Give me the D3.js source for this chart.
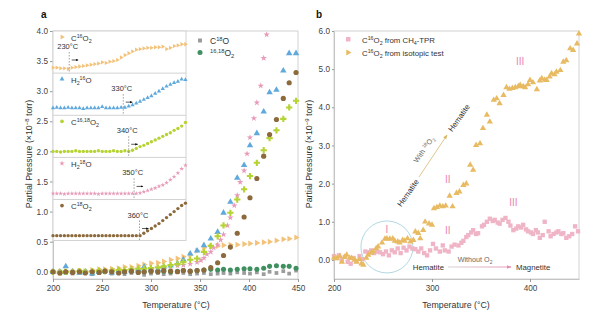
<!DOCTYPE html>
<html>
<head>
<meta charset="utf-8">
<script src="https://cdn.jsdelivr.net/npm/d3@7"></script>
<style>
body { margin: 0; background: #fff; }
svg { font-family: "Liberation Sans", Arial, sans-serif; }
</style>
</head>
<body>
<svg width="606" height="321"></svg>
<script>
// ============================== DATA : panel a, main plot ==============================
const tempA = [200, 207, 213, 220, 227, 233, 240, 247, 253, 260, 267, 273, 280, 287, 293, 300, 307, 313, 320, 327, 333, 340, 347, 354, 361, 368, 374, 381, 388, 395, 401, 408, 415, 421, 428, 435, 441, 448];
const c16o2A = [0.0, 0.0, 0.01, 0.0, 0.02, 0.01, 0.03, 0.04, 0.04, 0.05, 0.06, 0.08, 0.08, 0.1, 0.12, 0.14, 0.15, 0.17, 0.2, 0.22, 0.25, 0.28, 0.35, 0.4, 0.42, 0.43, 0.44, 0.45, 0.45, 0.46, 0.47, 0.48, 0.49, 0.5, 0.52, 0.54, 0.55, 0.57];
const h216oA = [0.0, 0.0, 0.09, 0.0, -0.02, 0.0, -0.03, 0.0, 0.01, -0.02, 0.02, 0.0, 0.02, 0.04, 0.08, 0.05, 0.04, 0.08, 0.1, 0.14, 0.2, 0.3, 0.35, 0.44, 0.55, 0.66, 0.98, 1.16, 1.56, 1.77, 2.1, 2.3, 2.66, 2.98, 3.02, 3.34, 3.63, 3.63];
const c1618o2A = [0.0, -0.01, 0.0, 0.0, 0.01, 0.0, 0.01, 0.02, 0.01, 0.02, 0.03, 0.03, 0.04, 0.05, 0.05, 0.06, 0.07, 0.09, 0.11, 0.13, 0.16, 0.2, 0.22, 0.33, 0.43, 0.59, 0.77, 0.98, 1.2, 1.37, 1.59, 1.81, 2.02, 2.22, 2.35, 2.54, 2.73, 2.84];
const c18o2A = [0.0, -0.02, 0.0, -0.01, 0.0, -0.02, 0.0, -0.01, 0.01, 0.0, -0.02, 0.0, 0.01, -0.01, 0.0, 0.01, 0.0, 0.02, 0.01, 0.0, 0.02, 0.01, 0.02, 0.03, 0.07, 0.15, 0.27, 0.41, 0.64, 0.91, 1.23, 1.55, 1.92, 2.28, 2.53, 2.88, 3.14, 3.31];
const c18oA = [0.0, -0.02, 0.0, -0.03, -0.01, 0.0, -0.04, -0.02, 0.0, -0.03, -0.01, -0.04, -0.02, 0.0, -0.05, -0.03, -0.02, -0.04, -0.03, 0.0, -0.02, -0.04, -0.03, -0.02, -0.04, -0.03, -0.02, -0.03, -0.01, -0.02, -0.03, -0.01, -0.04, 0.0, -0.02, 0.01, -0.03, 0.02];
const o1618A = [0.0, 0.0, -0.01, 0.0, 0.01, 0.0, 0.0, 0.01, 0.0, 0.01, 0.0, 0.0, 0.01, 0.0, 0.0, 0.01, 0.0, 0.01, 0.0, 0.01, 0.02, 0.01, 0.02, 0.03, 0.04, 0.03, 0.04, 0.03, 0.04, 0.05, 0.05, 0.04, 0.06, 0.09, 0.1, 0.09, 0.09, 0.06];
const tempH218o = [200, 207, 213, 220, 227, 233, 240, 247, 253, 260, 267, 273, 280, 287, 293, 300, 307, 313, 320, 327, 333, 340, 347, 351, 354, 357, 361, 364, 368, 371, 374, 378, 381, 385, 388, 391, 395, 398, 401, 405, 408, 412, 415, 418];
const h218oA = [0.0, -0.02, 0.0, 0.01, -0.01, 0.0, 0.01, 0.02, 0.01, 0.02, 0.03, 0.02, 0.04, 0.05, 0.05, 0.06, 0.07, 0.08, 0.09, 0.1, 0.11, 0.13, 0.16, 0.19, 0.23, 0.29, 0.33, 0.4, 0.45, 0.53, 0.62, 0.77, 0.9, 1.1, 1.27, 1.49, 1.68, 1.96, 2.23, 2.55, 2.81, 3.09, 3.55, 3.94];

// ============================== DATA : panel a, stacked inset ==============================
const tempInset = [200, 207, 214, 221, 228, 235, 242, 249, 256, 263, 270, 277, 284, 291, 298, 305, 312, 319, 326, 333, 340, 347, 354, 361, 368, 375, 382, 389, 396, 403, 410, 417, 424, 431, 438, 445];
const insetC16o2 = [3.39, 3.39, 3.38, 3.38, 3.37, 3.39, 3.40, 3.41, 3.42, 3.43, 3.44, 3.45, 3.46, 3.48, 3.47, 3.49, 3.50, 3.52, 3.56, 3.60, 3.63, 3.66, 3.69, 3.70, 3.71, 3.72, 3.72, 3.73, 3.73, 3.74, 3.70, 3.72, 3.75, 3.76, 3.78, 3.78];
const insetH216o = [2.72, 2.73, 2.72, 2.72, 2.73, 2.72, 2.72, 2.72, 2.71, 2.72, 2.72, 2.72, 2.72, 2.74, 2.72, 2.72, 2.72, 2.72, 2.73, 2.73, 2.75, 2.77, 2.80, 2.83, 2.86, 2.89, 2.92, 2.96, 3.00, 3.04, 3.08, 3.11, 3.14, 3.16, 3.20, 3.19];
const insetC1618o2 = [2.0, 2.0, 1.99, 2.0, 2.0, 2.0, 2.01, 2.0, 2.0, 2.0, 2.0, 2.0, 2.01, 2.0, 2.0, 2.0, 2.01, 2.0, 2.0, 2.01, 2.0, 2.02, 2.05, 2.08, 2.10, 2.13, 2.16, 2.19, 2.22, 2.25, 2.28, 2.31, 2.35, 2.38, 2.42, 2.48];
const insetH218o = [1.3, 1.3, 1.3, 1.29, 1.3, 1.3, 1.3, 1.3, 1.3, 1.3, 1.3, 1.3, 1.29, 1.3, 1.3, 1.3, 1.3, 1.3, 1.3, 1.3, 1.3, 1.3, 1.30, 1.31, 1.33, 1.35, 1.37, 1.39, 1.42, 1.44, 1.48, 1.53, 1.58, 1.64, 1.71, 1.77];
const insetC18o2 = [0.6, 0.6, 0.6, 0.6, 0.6, 0.6, 0.6, 0.6, 0.6, 0.6, 0.6, 0.6, 0.6, 0.6, 0.6, 0.6, 0.6, 0.6, 0.6, 0.6, 0.6, 0.6, 0.6, 0.6, 0.64, 0.68, 0.72, 0.76, 0.80, 0.85, 0.90, 0.95, 1.00, 1.05, 1.10, 1.14];
const onsetTemps = [230, 330, 340, 350, 360];
const insetRowTops = [4.0, 3.3, 2.6, 1.9, 1.2];
const insetBottom = 0.52;

// ============================== DATA : panel b ==============================
const tempTPR = [200, 202, 205, 208, 211, 214, 217, 220, 223, 226, 229, 232, 235, 238, 241, 244, 247, 250, 253, 256, 259, 262, 265, 268, 271, 274, 277, 280, 283, 286, 289, 292, 295, 298, 301, 304, 308, 311, 313, 317, 320, 323, 327, 330, 332, 335, 337, 340, 342, 345, 347, 351, 353, 356, 359, 362, 364, 367, 369, 372, 375, 378, 380, 383, 386, 388, 391, 393, 396, 398, 401, 403, 406, 408, 410, 413, 415, 419, 421, 424, 427, 429, 432, 434, 437, 440, 443, 446, 449];
const valTPR = [0.1, 0.05, 0.12, 0.0, 0.08, -0.05, -0.1, 0.05, -0.03, 0.1, 0.02, 0.22, 0.2, 0.25, 0.18, 0.22, 0.2, 0.15, 0.22, 0.12, 0.25, 0.2, 0.3, 0.18, 0.32, 0.25, 0.35, 0.3, 0.28, 0.22, 0.3, 0.18, 0.12, 0.25, 0.42, 0.3, 0.22, 0.38, 0.25, 0.22, 0.35, 0.4, 0.38, 0.45, 0.5, 0.6, 0.65, 0.72, 0.78, 0.68, 0.7, 0.88, 0.92, 1.0, 1.08, 1.02, 1.05, 0.98, 0.95, 1.05, 1.1, 1.0, 0.9, 0.78, 0.82, 0.88, 0.85, 0.92, 0.8, 0.75, 0.72, 0.68, 0.78, 0.72, 0.58, 0.65, 1.0, 0.75, 0.62, 0.68, 0.72, 0.75, 0.68, 0.7, 0.58, 0.62, 0.68, 0.88, 0.75];
const tempIso = [200, 203, 206, 208, 211, 213, 216, 218, 221, 223, 226, 228, 230, 233, 235, 238, 240, 243, 245, 249, 252, 254, 257, 260, 262, 265, 267, 270, 272, 275, 278, 281, 283, 286, 288, 291, 293, 297, 300, 302, 305, 308, 311, 314, 318, 321, 325, 328, 332, 335, 339, 342, 345, 349, 352, 356, 359, 363, 366, 369, 373, 376, 379, 382, 385, 388, 390, 393, 395, 398, 400, 403, 407, 410, 412, 415, 417, 420, 422, 425, 427, 431, 434, 437, 441, 444, 448, 450];
const valIso = [0.05, 0.04, 0.1, -0.05, 0.08, 0.13, 0.05, 0.05, 0.0, -0.05, 0.02, -0.1, -0.13, 0.05, 0.13, 0.18, 0.22, 0.3, 0.35, 0.45, 0.55, 0.56, 0.55, 0.56, 0.5, 0.48, 0.45, 0.52, 0.5, 0.56, 0.48, 0.52, 0.74, 0.7, 0.56, 0.78, 1.0, 0.95, 0.92, 1.35, 1.38, 1.42, 1.4, 1.42, 1.68, 1.4, 1.75, 1.79, 1.96, 2.0, 2.49, 2.36, 3.01, 3.05, 3.45, 3.8, 3.62, 4.19, 4.23, 4.1, 4.32, 4.52, 4.48, 4.5, 4.52, 4.55, 4.58, 4.55, 4.52, 4.6, 4.71, 4.65, 4.47, 4.7, 4.76, 4.72, 4.71, 4.8, 4.89, 4.86, 4.93, 4.97, 5.19, 5.23, 5.54, 5.5, 5.67, 5.93];

const ticksA_y = [0, 0.5, 1, 1.5, 2, 2.5, 3, 3.5, 4];
const ticksA_x = [200, 250, 300, 350, 400, 450];
const ticksB_y = [0, 1, 2, 3, 4, 5, 6];
const ticksB_x = [200, 300, 400];

// colours
const cOrange = "#f2c27a", cBlue = "#5fa9dd", cLime = "#b6d334", cPink = "#e79ab9",
      cBrown = "#8c6a3c", cGray = "#9c9c9c", cGreen = "#3f8f60";
const cTPR = "#efb5c6", cIso = "#e8ba62", cRoman = "#ec86b2";

const svg = d3.select("svg");

// superscript / subscript text helper
function rich(g, x, y, parts, size, anchor) {
    const t = g.append("text").attr("x", x).attr("y", y)
        .attr("font-size", size).attr("text-anchor", anchor || "start");
    let shift = 0;
    parts.forEach(p => {
        const off = p[1] === "sup" ? -size * 0.38 : p[1] === "sub" ? size * 0.28 : 0;
        t.append("tspan").attr("dy", off - shift)
            .attr("font-size", p[1] ? size * 0.68 : size).text(p[0]);
        shift = off;
    });
    return t;
}

function dots(g, xs, ys, temps, vals, type, size, color, rot) {
    g.append("g").selectAll("path").data(d3.zip(temps, vals)).join("path")
        .attr("d", d3.symbol().type(type).size(size))
        .attr("transform", d => "translate(" + xs(d[0]) + "," + ys(d[1]) + ")" + (rot ? " rotate(" + rot + ")" : ""))
        .attr("fill", color);
}

function styleAxis(g) {
    g.select(".domain").attr("stroke", "#c4c4c4");
    g.selectAll(".tick line").attr("stroke", "#999");
    g.selectAll(".tick text").attr("fill", "#444").attr("font-size", 8.2);
}

// arrow markers
const defs = svg.append("defs");
function marker(id, color, w) {
    defs.append("marker").attr("id", id).attr("viewBox", "0 0 10 10")
        .attr("refX", 9).attr("refY", 5).attr("markerWidth", w).attr("markerHeight", w)
        .attr("orient", "auto")
        .append("path").attr("d", "M0,1 L10,5 L0,9 Z").attr("fill", color);
}
marker("arrK", "#111", 4);
marker("arrY", "#d9b45a", 5);
marker("arrP", "#e68cb0", 5);
const grad = defs.append("linearGradient").attr("id", "gradP");
grad.append("stop").attr("offset", "0%").attr("stop-color", "#cfcfcf");
grad.append("stop").attr("offset", "100%").attr("stop-color", "#e68cb0");

// ============================== PANEL A ==============================
const xa = d3.scaleLinear().domain([200, 450]).range([53, 298]);
const ya = d3.scaleLinear().domain([-0.12, 4.0]).range([279, 31]);
const xin = d3.scaleLinear().domain([200, 446]).range([53, 186]);

const ga = svg.append("g");
ga.append("rect").attr("x", 53).attr("y", 31).attr("width", 245).attr("height", 248)
    .attr("fill", "none").attr("stroke", "#d2d2d2");

ga.append("g").attr("transform", "translate(53,0)")
    .call(d3.axisLeft(ya).tickValues(ticksA_y).tickFormat(d3.format(".1f")).tickSize(3).tickSizeOuter(0).tickPadding(2))
    .call(styleAxis);
ga.append("g").attr("transform", "translate(0,279)")
    .call(d3.axisBottom(xa).tickValues(ticksA_x).tickFormat(d3.format("d")).tickSize(3).tickSizeOuter(0).tickPadding(3))
    .call(styleAxis);

dots(ga, xa, ya, tempA, c18oA, d3.symbolSquare, 14, cGray);
dots(ga, xa, ya, tempA, o1618A, d3.symbolCircle, 20, cGreen);
dots(ga, xa, ya, tempA, c16o2A, d3.symbolTriangle, 16, cOrange, 90);
dots(ga, xa, ya, tempH218o, h218oA, d3.symbolStar, 13, cPink);
dots(ga, xa, ya, tempA, h216oA, d3.symbolTriangle, 18, cBlue);
dots(ga, xa, ya, tempA, c1618o2A, d3.symbolCross, 22, cLime);
dots(ga, xa, ya, tempA, c18o2A, d3.symbolCircle, 21, cBrown);

// legend for the two flat species
ga.append("rect").attr("x", 198).attr("y", 38.5).attr("width", 4).attr("height", 4).attr("fill", cGray);
rich(ga, 210, 44, [["C"], ["18", "sup"], ["O"]], 8.5).attr("fill", "#333");
ga.append("circle").attr("cx", 200).attr("cy", 52.5).attr("r", 2.5).attr("fill", cGreen);
rich(ga, 210, 56, [["16,18", "sup"], ["O"], ["2", "sub"]], 8.5).attr("fill", "#333");

// stacked inset, offset traces on the same pressure axis
const gi = ga.append("g");
gi.append("rect").attr("x", 53).attr("y", ya(4.0)).attr("width", 133).attr("height", ya(insetBottom) - ya(4.0))
    .attr("fill", "#fff").attr("stroke", "#d2d2d2");
insetRowTops.slice(1).forEach(v => {
    gi.append("line").attr("x1", 53).attr("x2", 186).attr("y1", ya(v)).attr("y2", ya(v))
        .attr("stroke", "#d2d2d2");
});

const insetSeries = [
    { vals: insetC16o2, type: d3.symbolTriangle, size: 8, color: cOrange, rot: 90, label: [["C"], ["16", "sup"], ["O"], ["2", "sub"]] },
    { vals: insetH216o, type: d3.symbolTriangle, size: 8, color: cBlue, rot: 0, label: [["H"], ["2", "sub"], ["16", "sup"], ["O"]] },
    { vals: insetC1618o2, type: d3.symbolCircle, size: 9, color: cLime, rot: 0, label: [["C"], ["16,18", "sup"], ["O"], ["2", "sub"]] },
    { vals: insetH218o, type: d3.symbolStar, size: 7, color: cPink, rot: 0, label: [["H"], ["2", "sub"], ["18", "sup"], ["O"]] },
    { vals: insetC18o2, type: d3.symbolCircle, size: 9, color: cBrown, rot: 0, label: [["C"], ["18", "sup"], ["O"], ["2", "sub"]] }
];

insetSeries.forEach((s, i) => {
    const top = ya(insetRowTops[i]);
    const bottom = i < 4 ? ya(insetRowTops[i + 1]) : ya(insetBottom);
    dots(gi, xin, ya, tempInset, s.vals, s.type, s.size, s.color, s.rot);
    // row legend
    gi.append("path").attr("d", d3.symbol().type(s.type).size(s.size + 2))
        .attr("transform", "translate(62," + (top + 6) + ")" + (s.rot ? " rotate(" + s.rot + ")" : ""))
        .attr("fill", s.color);
    rich(gi, 71, top + 9.5, s.label, 7.8).attr("fill", "#333");
    // onset marker
    const lx = xin(onsetTemps[i]);
    gi.append("text").attr("x", lx - 1.5).attr("y", top + 18).attr("text-anchor", "middle")
        .attr("font-size", 7.5).attr("fill", "#333").text(onsetTemps[i] + "°C");
    gi.append("line").attr("x1", lx).attr("x2", lx).attr("y1", top + 21).attr("y2", bottom)
        .attr("stroke", "#777").attr("stroke-width", 0.7).attr("stroke-dasharray", "1.5,1.5");
    gi.append("line").attr("x1", lx + 2.5).attr("x2", lx + 9).attr("y1", top + 29).attr("y2", top + 29)
        .attr("stroke", "#111").attr("stroke-width", 0.7).attr("marker-end", "url(#arrK)");
});

rich(ga, 32, 154, [["Partial Pressure (×10"], ["−8", "sup"], [" torr)"]], 8.8, "middle")
    .attr("transform", "rotate(-90,32,154)").attr("fill", "#333");
ga.append("text").attr("x", 176).attr("y", 308).attr("text-anchor", "middle")
    .attr("font-size", 8.8).attr("fill", "#333").text("Temperature (°C)");
ga.append("text").attr("x", 41).attr("y", 18).attr("font-size", 10).attr("font-weight", "bold")
    .attr("fill", "#111").text("a");

// ============================== PANEL B ==============================
const xb = d3.scaleLinear().domain([200, 450]).range([334, 579]);
const yb = d3.scaleLinear().domain([-0.5, 6]).range([279, 31]);

const gb = svg.append("g");
gb.append("rect").attr("x", 334).attr("y", 31).attr("width", 245).attr("height", 248)
    .attr("fill", "none").attr("stroke", "#d2d2d2");
gb.append("g").attr("transform", "translate(334,0)")
    .call(d3.axisLeft(yb).tickValues(ticksB_y).tickFormat(d3.format(".1f")).tickSize(2).tickSizeOuter(0).tickPadding(2))
    .call(styleAxis);
gb.append("g").attr("transform", "translate(0,279)")
    .call(d3.axisBottom(xb).tickValues(ticksB_x).tickFormat(d3.format("d")).tickSize(3).tickSizeOuter(0).tickPadding(3))
    .call(styleAxis);

// reaction annotations (drawn under the points)
gb.append("circle").attr("cx", xb(254)).attr("cy", yb(0.34)).attr("r", 26)
    .attr("fill", "none").attr("stroke", "#a9d2de").attr("stroke-width", 0.9);

dots(gb, xb, yb, tempTPR, valTPR, d3.symbolSquare, 19, cTPR);
dots(gb, xb, yb, tempIso, valIso, d3.symbolTriangle, 17, cIso);

const roman = [["I", 254, 0.8], ["II", 316, 2.1], ["II", 316, 0.78], ["III", 390, 5.2], ["III", 383, 1.5]];
roman.forEach(r => {
    gb.append("text").attr("x", xb(r[1])).attr("y", yb(r[2])).attr("dy", "0.35em")
        .attr("text-anchor", "middle").attr("font-size", 10).attr("fill", cRoman).text(r[0]);
});

// Hematite + 18O2 -> Hematite
gb.append("text").attr("transform", "translate(408,193) rotate(-55)").attr("text-anchor", "middle")
    .attr("dy", "0.35em").attr("font-size", 7.8).attr("fill", "#333").text("Hematite");
gb.append("line").attr("x1", 419).attr("y1", 177).attr("x2", 447).attr("y2", 135)
    .attr("stroke", "#d9c27e").attr("stroke-width", 0.9).attr("marker-end", "url(#arrY)");
rich(gb, 0, 0, [["With "], ["18", "sup"], ["O"], ["2", "sub"]], 7.2, "middle")
    .attr("transform", "translate(426,151) rotate(-55)").attr("fill", "#666");
gb.append("text").attr("transform", "translate(459,118) rotate(-55)").attr("text-anchor", "middle")
    .attr("dy", "0.35em").attr("font-size", 7.8).attr("fill", "#333").text("Hematite");

// Hematite -> Magnetite without O2
gb.append("text").attr("x", 444).attr("y", 270).attr("text-anchor", "end")
    .attr("font-size", 7.8).attr("fill", "#333").text("Hematite");
gb.append("line").attr("x1", 448).attr("y1", 267).attr("x2", 511).attr("y2", 267.01)
    .attr("stroke", "url(#gradP)").attr("stroke-width", 0.9).attr("marker-end", "url(#arrP)");
rich(gb, 475, 262, [["Without O"], ["2", "sub"]], 7.2, "middle").attr("fill", "#666");
gb.append("text").attr("x", 516).attr("y", 270).attr("font-size", 7.8).attr("fill", "#333").text("Magnetite");

// legend
gb.append("rect").attr("x", 346).attr("y", 37).attr("width", 4.5).attr("height", 4.5).attr("fill", cTPR);
rich(gb, 362, 42.5, [["C"], ["16", "sup"], ["O"], ["2", "sub"], [" from CH"], ["4", "sub"], ["-TPR"]], 7.8).attr("fill", "#333");
gb.append("path").attr("d", d3.symbol().type(d3.symbolTriangle).size(16))
    .attr("transform", "translate(348,52.5) rotate(90)").attr("fill", cIso);
rich(gb, 362, 55.5, [["C"], ["16", "sup"], ["O"], ["2", "sub"], [" from isotopic test"]], 7.8).attr("fill", "#333");

rich(gb, 312, 154, [["Partial Pressure (×10"], ["−9", "sup"], [" torr)"]], 8.8, "middle")
    .attr("transform", "rotate(-90,312,154)").attr("fill", "#333");
gb.append("text").attr("x", 456).attr("y", 308).attr("text-anchor", "middle")
    .attr("font-size", 8.8).attr("fill", "#333").text("Temperature (°C)");
gb.append("text").attr("x", 316).attr("y", 18).attr("font-size", 10).attr("font-weight", "bold")
    .attr("fill", "#111").text("b");
</script>
</body>
</html>
